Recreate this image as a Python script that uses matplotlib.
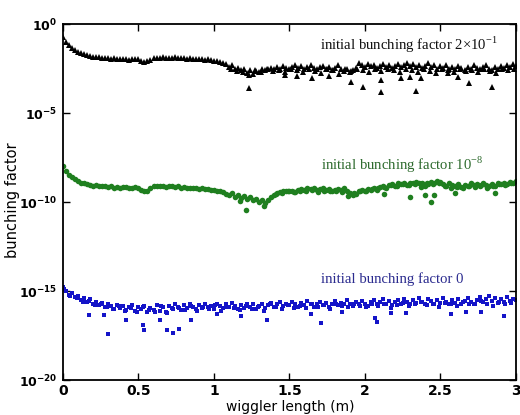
import numpy as np
import matplotlib
matplotlib.use('Agg')
import matplotlib.pyplot as plt

plt.rcParams['mathtext.fontset'] = 'custom'
plt.rcParams['mathtext.rm'] = 'Liberation Serif'
plt.rcParams['mathtext.bf'] = 'DejaVu Sans:bold'

# x positions (wiggler length, m)
x_main = np.round(np.arange(0, 3.0001, 0.02), 2)

# log10 of bunching factor
black_log = [
    -0.75, -1.00, -1.20, -1.35, -1.45, -1.55, -1.62, -1.68, -1.74, -1.78,
    -1.83, -1.86, -1.85, -1.90, -1.92, -1.90, -1.95, -1.93, -1.97, -1.95,
    -1.98, -1.96, -2.00, -1.97, -1.95, -1.98, -2.05, -2.12, -2.08, -2.00,
    -1.92, -1.88, -1.90, -1.86, -1.90, -1.88, -1.92, -1.87, -1.90, -1.93,
    -1.90, -1.95, -1.92, -1.96, -1.94, -1.98, -1.95, -2.00, -1.97, -2.00,
    -2.05, -2.10, -2.15, -2.20, -2.25, -2.40, -2.30, -2.55, -2.45, -2.60,
    -2.50, -2.75, -2.60, -2.80, -2.65, -2.70, -2.55, -2.60, -2.50, -2.45,
    -2.50, -2.40, -2.50, -2.35, -2.45, -2.55, -2.40, -2.30, -2.45, -2.35,
    -2.50, -2.40, -2.30, -2.45, -2.55, -2.40, -2.35, -2.50, -2.40, -2.60,
    -2.45, -2.30, -2.50, -2.65, -2.55, -2.70, -2.60, -2.45, -2.20, -2.30,
    -2.40, -2.25, -2.35, -2.30, -2.45, -2.35, -2.25, -2.40, -2.30, -2.45,
    -2.35, -2.25, -2.40, -2.30, -2.20, -2.35, -2.25, -2.40, -2.30, -2.45,
    -2.35, -2.20, -2.40, -2.30, -2.50, -2.35, -2.45, -2.30, -2.50, -2.40,
    -2.55, -2.35, -2.45, -2.60, -2.40, -2.50, -2.30, -2.45, -2.55, -2.40,
    -2.30, -2.50, -2.60, -2.40, -2.50, -2.35, -2.45, -2.30, -2.40, -2.25,
    -2.35]

green_log = [
    -8.00, -8.25, -8.45, -8.60, -8.72, -8.82, -8.90, -8.95, -9.00, -9.02,
    -9.08, -9.05, -9.10, -9.12, -9.10, -9.15, -9.12, -9.18, -9.15, -9.20,
    -9.17, -9.15, -9.20, -9.18, -9.15, -9.20, -9.30, -9.40, -9.35, -9.20,
    -9.10, -9.08, -9.12, -9.08, -9.15, -9.10, -9.12, -9.15, -9.10, -9.18,
    -9.15, -9.20, -9.18, -9.22, -9.20, -9.25, -9.22, -9.28, -9.25, -9.30,
    -9.30, -9.35, -9.40, -9.45, -9.55, -9.60, -9.50, -9.70, -9.60, -9.75,
    -9.65, -9.80, -9.70, -9.90, -9.85, -10.00, -9.90, -10.05, -9.90, -9.70,
    -9.60, -9.50, -9.45, -9.40, -9.35, -9.40, -9.35, -9.45, -9.30, -9.25,
    -9.30, -9.20, -9.25, -9.20, -9.30, -9.25, -9.20, -9.30, -9.25, -9.35,
    -9.30, -9.25, -9.30, -9.20, -9.40, -9.50, -9.60, -9.55, -9.40, -9.30,
    -9.35, -9.25, -9.30, -9.20, -9.30, -9.15, -9.10, -9.20, -9.05, -9.00,
    -9.10, -8.95, -9.00, -8.90, -9.05, -8.95, -8.90, -8.85, -8.95, -8.90,
    -9.10, -9.00, -8.85, -8.90, -8.80, -8.85, -9.00, -9.10, -8.95, -9.05,
    -9.10, -9.00, -9.15, -9.05, -9.10, -8.95, -9.05, -9.00, -9.10, -8.95,
    -9.05, -9.10, -9.00, -9.10, -8.95, -9.00, -8.90, -9.00, -8.85, -8.90,
    -8.80]

blue_log = [
    -14.75, -15.00, -15.20, -15.10, -15.35, -15.30, -15.50, -15.40, -15.60, -15.45,
    -15.70, -15.60, -15.80, -15.65, -15.90, -15.75, -15.85, -16.00, -15.80, -15.95,
    -15.85, -16.05, -15.90, -15.80, -16.10, -15.90, -16.00, -15.85, -16.15, -15.95,
    -16.05, -15.80, -16.10, -15.90, -16.20, -15.85, -15.95, -15.75, -15.90, -16.05,
    -15.80, -15.95, -15.70, -15.90, -16.00, -15.80, -15.95, -15.75, -15.90, -15.85,
    -16.00, -15.70, -15.85, -15.95, -15.75, -15.90, -15.65, -15.85, -16.00, -15.80,
    -15.95, -15.70, -15.90, -15.75, -16.00, -15.85, -15.70, -15.95, -15.80, -15.65,
    -15.90, -15.75, -15.60, -15.85, -15.70, -15.80, -15.60, -15.75, -15.90, -15.65,
    -15.80, -15.55, -15.75, -15.90, -15.70, -15.60, -15.80, -15.65, -15.90, -15.70,
    -15.55, -15.80, -15.65, -15.75, -15.50, -15.70, -15.85, -15.60, -15.75, -15.55,
    -15.70, -15.85, -15.60, -15.50, -15.75, -15.60, -15.45, -15.70, -15.55, -15.80,
    -15.60, -15.50, -15.70, -15.45, -15.60, -15.75, -15.50, -15.65, -15.40, -15.60,
    -15.70, -15.45, -15.55, -15.75, -15.50, -15.65, -15.40, -15.60, -15.75, -15.50,
    -15.65, -15.45, -15.70, -15.55, -15.40, -15.60, -15.75, -15.50, -15.35, -15.60,
    -15.45, -15.30, -15.55, -15.40, -15.65, -15.45, -15.60, -15.35, -15.55, -15.45,
    -15.50]

# second interleaved samples (thickness of the noisy bands)
x_black2 = np.round(np.arange(1.11, 3.0, 0.04), 2)
black2_log = [
    -2.50, -2.65, -2.70, -2.85, -2.60, -2.70, -2.55, -2.65, -2.60, -2.70,
    -2.55, -2.60, -2.70, -2.50, -2.65, -2.75, -2.55, -2.60, -2.80, -2.50,
    -2.65, -2.55, -2.60, -2.70, -2.50, -2.65, -2.55, -2.60, -2.70, -2.50,
    -2.60, -2.70, -2.55, -2.65, -2.75, -2.55, -2.60, -2.70, -2.55, -2.65,
    -2.60, -2.70, -2.55, -2.65, -2.75, -2.50, -2.60, -2.55]

x_green2 = np.round(np.arange(1.41, 3.0, 0.04), 2)
green2_log = [
    -9.55, -9.50, -9.40, -9.45, -9.35, -9.40, -9.30, -9.45, -9.35, -9.40,
    -9.35, -9.45, -9.65, -9.50, -9.40, -9.35, -9.25, -9.20, -9.15, -9.05,
    -9.10, -9.00, -9.05, -9.00, -9.15, -8.95, -9.00, -8.95, -9.10, -9.20,
    -9.15, -9.20, -9.10, -9.15, -9.05, -9.20, -9.10, -9.00, -9.05, -8.95]

x_blue2 = np.round(np.arange(0.01, 3.0, 0.04), 2)
blue2_log = [
    -14.90, -15.30, -15.40, -15.60, -15.55, -15.80, -15.70, -15.90, -16.00, -15.85,
    -16.10, -15.95, -16.20, -15.90, -16.05, -16.15, -15.85, -16.25, -16.00, -15.95,
    -16.05, -15.85, -16.10, -15.90, -16.00, -15.80, -16.10, -15.90, -15.95, -16.05,
    -15.85, -16.00, -15.90, -16.10, -15.75, -15.90, -16.00, -15.80, -15.95, -15.85,
    -15.95, -15.75, -15.90, -15.80, -16.00, -15.70, -15.85, -15.90, -15.75, -15.85,
    -15.90, -15.75, -15.85, -15.70, -15.95, -15.80, -15.65, -15.85, -15.75, -15.60,
    -15.80, -15.70, -15.90, -15.65, -15.75, -15.85, -15.60, -15.75, -15.70, -15.55,
    -15.70, -15.85, -15.60, -15.75, -15.65]

# isolated low points
black_out_x = [1.23, 1.65, 1.76, 1.91, 1.99, 2.11, 2.11, 2.24, 2.30, 2.34, 2.37, 2.55, 2.62, 2.69, 2.84, 1.47, 1.55]
black_out_log = [-3.60, -3.03, -2.92, -3.26, -3.54, -3.82, -3.15, -3.03, -2.98, -3.76, -3.03, -2.75, -2.98, -3.31, -3.54, -2.85, -2.90]

green_out_x = [1.21, 1.17, 1.33, 2.13, 2.30, 2.40, 2.44, 2.46, 2.60, 2.86]
green_out_log = [-10.45, -9.95, -10.20, -9.55, -9.70, -9.60, -10.00, -9.60, -9.50, -9.50]

blue_out_x = [0.17, 0.27, 0.30, 0.42, 0.53, 0.54, 0.64, 0.69, 0.73, 0.77, 0.85, 1.02, 1.18, 1.35,
              1.64, 1.71, 1.85, 2.07, 2.08, 2.17, 2.27, 2.57, 2.67, 2.77, 2.92]
blue_out_log = [-16.35, -16.35, -17.40, -16.60, -16.90, -17.20, -16.60, -17.20, -17.35, -17.10, -16.60, -16.30, -16.40, -16.60,
                -16.30, -16.80, -16.20, -16.50, -16.75, -16.25, -16.25, -16.30, -16.15, -16.20, -16.40]

labels = ['initial bunching factor 2$\\times$10$^{-1}$',
          'initial bunching factor 10$^{-8}$',
          'initial bunching factor 0']
label_x = [1.70, 1.71, 1.71]
label_log = [-1.18, -7.92, -14.33]

c_black, c_green, c_blue = '#000000', '#1f7f1f', '#1414c8'
t_colors = ['#111111', '#2e6b2e', '#2b2b8f']

fig = plt.figure(figsize=(5.2, 4.15), dpi=100)
ax = fig.add_axes([0.121, 0.084, 0.871, 0.858])

def pw(a):
    return 10.0 ** np.asarray(a)

ms_t, ms_o, ms_s = 4.2, 4.0, 3.4
ax.plot(x_main, pw(black_log), ls='none', marker='^', ms=ms_t, color=c_black, mew=0)
ax.plot(x_black2, pw(black2_log), ls='none', marker='^', ms=ms_t, color=c_black, mew=0)
ax.plot(black_out_x, pw(black_out_log), ls='none', marker='^', ms=ms_t, color=c_black, mew=0)

ax.plot(x_main, pw(green_log), ls='none', marker='o', ms=ms_o, color=c_green, mew=0)
ax.plot(x_green2, pw(green2_log), ls='none', marker='o', ms=ms_o, color=c_green, mew=0)
ax.plot(green_out_x, pw(green_out_log), ls='none', marker='o', ms=ms_o, color=c_green, mew=0)

ax.plot(x_main, pw(blue_log), ls='none', marker='s', ms=ms_s, color=c_blue, mew=0)
ax.plot(x_blue2, pw(blue2_log), ls='none', marker='s', ms=ms_s, color=c_blue, mew=0)
ax.plot(blue_out_x, pw(blue_out_log), ls='none', marker='s', ms=ms_s, color=c_blue, mew=0)

for t, xx, yy, c in zip(labels, label_x, label_log, t_colors):
    ax.text(xx, 10.0 ** yy, t, color=c, fontsize=10.6, family='Liberation Serif',
            ha='left', va='center')

ax.set_yscale('log')
ax.set_xlim(0, 3)
ax.set_ylim(1e-20, 1e0)

yt_exp = [0, -5, -10, -15, -20]
ax.set_yticks([10.0 ** e for e in yt_exp])
ax.set_yticklabels([r'$\mathbf{10}^{\mathbf{%d}}$' % e for e in yt_exp])
ax.yaxis.set_minor_locator(matplotlib.ticker.NullLocator())
xt = [0, 0.5, 1, 1.5, 2, 2.5, 3]
xt_lab = ['0', '0.5', '1', '1.5', '2', '2.5', '3']
ax.set_xticks(xt)
ax.set_xticklabels(xt_lab, fontweight='bold')

ax.tick_params(direction='in', length=5, width=1, top=True, right=True, labelsize=10, pad=3)
ax.tick_params(axis='y', pad=4, labelsize=9)
for s in ax.spines.values():
    s.set_linewidth(1.3)

fig.text(290 / 520, 1 - 407 / 415, 'wiggler length (m)', fontsize=10,
         ha='center', va='center')
fig.text(13 / 520, 1 - 200 / 415, 'bunching factor', fontsize=10.5,
         ha='center', va='center', rotation=90)

fig.savefig('out.png', dpi=100)
